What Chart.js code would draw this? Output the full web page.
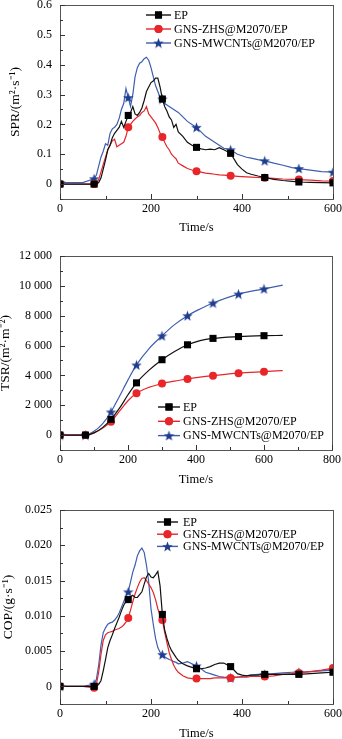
<!DOCTYPE html>
<html>
<head>
<meta charset="utf-8">
<script src="https://cdn.jsdelivr.net/npm/chart.js@4.4.0/dist/chart.umd.min.js"></script>
<style>
  html, body { margin: 0; padding: 0; background: #fff; }
  body { width: 342px; height: 739px; position: relative; overflow: hidden; }
  canvas { position: absolute; left: 0; }
</style>
</head>
<body>
<canvas id="spr" width="342" height="245" style="top:0"></canvas>
<canvas id="tsr" width="342" height="250" style="top:245px"></canvas>
<canvas id="cop" width="342" height="244" style="top:495px"></canvas>
<script>
const seriesNames = ['EP', 'GNS-ZHS@M2070/EP', 'GNS-MWCNTs@M2070/EP'];

// time grid (s) shared by the SPR and COP curves
const time = [0, 25, 50, 75, 80, 85, 90, 95, 100, 105, 110, 115, 120, 125, 130, 135, 140, 145, 150,
  155, 160, 165, 170, 175, 180, 185, 190, 195, 200, 205, 210, 215, 220, 225, 230, 235, 240, 245, 250,
  255, 260, 270, 280, 290, 300, 310, 320, 330, 340, 350, 360, 375, 390, 400, 410, 420, 435, 450, 470,
  490, 510, 525, 550, 575, 600];

// smoke production rate, m2/s
const sprEP = [0, 0, 0, 0, 0, 0.005, 0.02, 0.05, 0.08, 0.115, 0.13, 0.155, 0.17, 0.18, 0.19, 0.21, 0.19, 0.21, 0.23,
  0.24, 0.26, 0.235, 0.23, 0.24, 0.255, 0.28, 0.31, 0.325, 0.34, 0.345, 0.355, 0.355, 0.325, 0.285, 0.26, 0.245, 0.225, 0.215, 0.19,
  0.2, 0.175, 0.16, 0.14, 0.13, 0.123, 0.118, 0.115, 0.117, 0.115, 0.122, 0.115, 0.103, 0.065, 0.05, 0.038, 0.033, 0.027, 0.022, 0.016,
  0.012, 0.009, 0.007, 0.006, 0.005, 0.004];
const sprZHS = [0, 0, 0, 0, 0.003, 0.015, 0.04, 0.066, 0.09, 0.115, 0.13, 0.145, 0.15, 0.125, 0.13, 0.135, 0.14, 0.16, 0.19,
  0.2, 0.21, 0.218, 0.225, 0.23, 0.24, 0.245, 0.26, 0.235, 0.225, 0.215, 0.205, 0.19, 0.17, 0.158, 0.14, 0.125, 0.115, 0.1, 0.092,
  0.085, 0.07, 0.061, 0.052, 0.047, 0.043, 0.04, 0.037, 0.035, 0.033, 0.031, 0.03, 0.028, 0.026, 0.025, 0.024, 0.023, 0.022, 0.021, 0.019,
  0.017, 0.016, 0.015, 0.013, 0.011, 0.01];
const sprMWCNT = [0.005, 0.005, 0.005, 0.018, 0.03, 0.06, 0.09, 0.11, 0.135, 0.13, 0.17, 0.185, 0.19, 0.2, 0.22, 0.25, 0.27, 0.32, 0.29,
  0.26, 0.3, 0.36, 0.39, 0.405, 0.41, 0.42, 0.425, 0.415, 0.39, 0.36, 0.33, 0.31, 0.29, 0.285, 0.27, 0.265, 0.26, 0.255, 0.25,
  0.245, 0.24, 0.225, 0.21, 0.2, 0.19, 0.175, 0.16, 0.15, 0.14, 0.13, 0.12, 0.115, 0.1, 0.095, 0.09, 0.087, 0.082, 0.078, 0.07,
  0.063, 0.055, 0.052, 0.047, 0.042, 0.04];

// total smoke release, m2/m2
const tsrTime = [0, 75, 100, 125, 150, 175, 200, 225, 262, 300, 337, 375, 412, 450, 525, 600, 655];
const tsrEP = [0, 0, 150, 500, 1050, 1800, 2700, 3500, 4350, 5050, 5600, 6050, 6330, 6480, 6600, 6660, 6680];
const tsrZHS = [0, 0, 150, 450, 900, 1600, 2300, 2800, 3200, 3450, 3620, 3760, 3880, 3980, 4150, 4250, 4320];
const tsrMWCNT = [0, 0, 250, 750, 1550, 2600, 3700, 4700, 5800, 6650, 7400, 8000, 8450, 8850, 9450, 9800, 10050];

// CO production, g/s
const copEP = [0, 0, 0, 0, 0, 0.0003, 0.0008, 0.0022, 0.0038, 0.0055, 0.0065, 0.0073, 0.0082, 0.009, 0.0098, 0.0107, 0.0115, 0.012, 0.0123,
  0.0127, 0.0129, 0.0126, 0.0126, 0.013, 0.0134, 0.0145, 0.0155, 0.016, 0.0155, 0.0154, 0.0158, 0.0163, 0.0142, 0.0102, 0.008, 0.0068, 0.0058, 0.0051, 0.0046,
  0.0041, 0.0037, 0.0032, 0.0029, 0.0027, 0.0025, 0.0025, 0.0026, 0.0028, 0.0031, 0.0033, 0.0033, 0.0028, 0.0018, 0.0016, 0.0015, 0.0016, 0.0016, 0.0017, 0.0017,
  0.0017, 0.0017, 0.0017, 0.0018, 0.0019, 0.002];
const copZHS = [0, 0, 0, -0.0002, 0.0003, 0.002, 0.0045, 0.0065, 0.0073, 0.0076, 0.0077, 0.0078, 0.008, 0.0081, 0.0082, 0.0084, 0.0087, 0.0091, 0.0097,
  0.0108, 0.012, 0.0131, 0.014, 0.0148, 0.0153, 0.0154, 0.015, 0.0145, 0.014, 0.0133, 0.0123, 0.011, 0.01, 0.0094, 0.0077, 0.0062, 0.0048, 0.0038, 0.003,
  0.0024, 0.002, 0.0015, 0.0012, 0.0011, 0.0011, 0.0011, 0.0011, 0.0011, 0.0012, 0.0012, 0.0012, 0.0012, 0.0013, 0.0013, 0.0013, 0.0014, 0.0014, 0.0014, 0.0015,
  0.0017, 0.0018, 0.0019, 0.0021, 0.0023, 0.0026];
const copMWCNT = [0, 0, 0, 0.0003, 0.001, 0.003, 0.0058, 0.0076, 0.0083, 0.0088, 0.009, 0.0091, 0.0094, 0.0098, 0.0104, 0.0112, 0.012, 0.0128, 0.0134,
  0.0148, 0.0162, 0.0172, 0.0185, 0.0192, 0.0196, 0.019, 0.0172, 0.0148, 0.011, 0.0088, 0.0068, 0.0055, 0.0048, 0.0045, 0.0042, 0.004, 0.0038, 0.0037, 0.0035,
  0.0034, 0.0032, 0.0033, 0.0035, 0.0032, 0.0029, 0.0025, 0.002, 0.0018, 0.0016, 0.0014, 0.0013, 0.0012, 0.0013, 0.0014, 0.0015, 0.0016, 0.0017, 0.0017, 0.0018,
  0.0019, 0.002, 0.002, 0.0021, 0.0022, 0.0023];

// axis ticks
const sprTicks = [0, 0.1, 0.2, 0.3, 0.4, 0.5, 0.6];
const tsrTicks = [0, 2000, 4000, 6000, 8000, 10000, 12000];
const copTicks = [0, 0.005, 0.01, 0.015, 0.02, 0.025];
const timeTicks600 = [0, 200, 400, 600];
const timeTicks800 = [0, 200, 400, 600, 800];

const FONT = '"Liberation Serif", "Times New Roman", serif';
Chart.defaults.font.family = FONT;
Chart.defaults.font.size = 12;
Chart.defaults.color = '#000';

// filled five point star used as the marker of the MWCNTs series
function starImage(size, color) {
  const c = document.createElement('canvas');
  c.width = size; c.height = size;
  const g = c.getContext('2d');
  const cx = size / 2, cy = size / 2 + 0.5, ro = size / 2, ri = ro * 0.42;
  g.beginPath();
  for (let i = 0; i < 10; i++) {
    const r = i % 2 ? ri : ro;
    const a = -Math.PI / 2 + i * Math.PI / 5;
    g.lineTo(cx + r * Math.cos(a), cy + r * Math.sin(a));
  }
  g.closePath();
  g.fillStyle = color;
  g.fill();
  return c;
}

const styles = [
  { line: '#111111', fill: '#000000', pointStyle: 'rect', radius: 5 },
  { line: '#e3262b', fill: '#e8262a', pointStyle: 'circle', radius: 4 },
  { line: '#3d5fae', fill: '#1f3d8f', pointStyle: starImage(11, '#1f3d8f'), radius: 5 }
];

function zip(xs, ys) {
  return xs.map((x, i) => ({ x: x, y: ys[i] }));
}

function datasets(xs, series, smooth) {
  return series.map((ys, i) => ({
    label: seriesNames[i],
    data: zip(xs, ys),
    borderColor: styles[i].line,
    backgroundColor: styles[i].fill,
    borderWidth: 1.2,
    pointStyle: styles[i].pointStyle,
    pointBorderColor: styles[i].fill,
    pointBorderWidth: 0,
    pointRadius: (ctx) => (ctx.raw && ctx.raw.x % 75 === 0 ? styles[i].radius : 0),
    pointHoverRadius: 0,
    tension: 0,
    cubicInterpolationMode: smooth ? 'monotone' : 'default'
  }));
}

// frame, inward tick marks and the line+marker legend
const framePlugin = {
  id: 'frame',
  afterDraw(chart, args, o) {
    const { ctx, chartArea: a, scales } = chart;
    ctx.save();
    ctx.strokeStyle = '#555';
    ctx.lineWidth = 1;
    ctx.strokeRect(Math.round(a.left) + 0.5, Math.round(a.top) + 0.5,
      Math.round(a.right - a.left), Math.round(a.bottom - a.top));
    ctx.strokeStyle = '#333';
    ctx.beginPath();
    const x = scales.x, y = scales.y;
    for (let v = x.min; v <= x.max + 1e-9; v += o.xMinor) {
      const px = Math.round(x.getPixelForValue(v)) + 0.5;
      const major = Math.abs(v / o.xMajor - Math.round(v / o.xMajor)) < 1e-6;
      ctx.moveTo(px, a.bottom);
      ctx.lineTo(px, a.bottom - (major ? 5 : 3));
    }
    const start = Math.ceil(y.min / o.yMinor - 1e-6) * o.yMinor;
    for (let v = start; v <= y.max + 1e-9; v += o.yMinor) {
      const py = Math.round(y.getPixelForValue(v)) + 0.5;
      const major = Math.abs(v / o.yMajor - Math.round(v / o.yMajor)) < 1e-6;
      ctx.moveTo(a.left, py);
      ctx.lineTo(a.left + (major ? 5 : 3), py);
    }
    ctx.stroke();

    const L = o.legend;
    chart.data.datasets.forEach((ds, i) => {
      const ly = L.y + i * L.dy;
      ctx.strokeStyle = ds.borderColor;
      ctx.lineWidth = 1.4;
      ctx.beginPath();
      ctx.moveTo(L.x0, ly);
      ctx.lineTo(L.x1, ly);
      ctx.stroke();
      ctx.fillStyle = ds.backgroundColor;
      Chart.helpers.drawPoint(ctx, {
        pointStyle: styles[i].pointStyle, radius: styles[i].radius, rotation: 0, borderWidth: 0
      }, (L.x0 + L.x1) / 2, ly);
      ctx.fill();
      ctx.fillStyle = '#000';
      ctx.font = '12px ' + FONT;
      ctx.textBaseline = 'middle';
      ctx.textAlign = 'left';
      ctx.fillText(ds.label, L.tx, ly + 0.5);
    });
    ctx.restore();
  }
};

function makeChart(id, cfg) {
  return new Chart(document.getElementById(id), {
    type: 'line',
    data: { datasets: datasets(cfg.xs, cfg.series, cfg.smooth) },
    plugins: [framePlugin],
    options: {
      responsive: false,
      animation: false,
      devicePixelRatio: 1,
      layout: { padding: { top: cfg.top, right: cfg.right, left: 0, bottom: 0 } },
      plugins: {
        legend: { display: false },
        tooltip: { enabled: false },
        frame: cfg.frame
      },
      scales: {
        x: {
          type: 'linear',
          min: 0, max: cfg.xMax,
          grid: { display: false, drawTicks: false },
          border: { display: false },
          afterBuildTicks: (s) => { s.ticks = cfg.xTicks.map(v => ({ value: v })); },
          afterFit: (s) => { s.height = cfg.xHeight; s.paddingLeft = 0; s.paddingRight = 0; },
          ticks: { padding: 3, maxRotation: 0, autoSkip: false, font: { size: 12 } },
          title: { display: true, text: 'Time/s', font: { size: 12.5 }, padding: cfg.xTitlePad }
        },
        y: {
          min: cfg.yMin, max: cfg.yMax,
          grid: { display: false, drawTicks: false },
          border: { display: false },
          afterBuildTicks: (s) => { s.ticks = cfg.yTicks.map(v => ({ value: v })); },
          afterFit: (s) => { s.width = 60; s.paddingTop = 0; s.paddingBottom = 0; },
          ticks: { padding: 8, autoSkip: false, callback: cfg.yFormat, font: { size: 12 } },
          title: { display: true, text: cfg.yTitle, font: { size: 13.5 }, padding: cfg.yTitlePad }
        }
      }
    }
  });
}

makeChart('spr', {
  xs: time, series: [sprEP, sprZHS, sprMWCNT], smooth: false,
  top: 5, right: 9, xHeight: 46, xMax: 600, xTicks: timeTicks600,
  yMin: -0.05, yMax: 0.6, yTicks: sprTicks,
  yFormat: (v) => (v === 0 ? '0' : v.toFixed(1)),
  yTitle: 'SPR/(m\u00b2\u00b7s\u207b\u00b9)', yTitlePad: { top: 7, bottom: 0 },
  xTitlePad: { top: 0, bottom: 9.5 },
  frame: { xMajor: 200, xMinor: 100, yMajor: 0.1, yMinor: 0.05,
    legend: { x0: 146, x1: 171, tx: 174, y: 15, dy: 14 } }
});

makeChart('tsr', {
  xs: tsrTime, series: [tsrEP, tsrZHS, tsrMWCNT], smooth: true,
  top: 11, right: 10, xHeight: 45, xMax: 800, xTicks: timeTicks800,
  yMin: -1000, yMax: 12000, yTicks: tsrTicks,
  yFormat: (v) => String(v).replace(/\B(?=(\d{3})+(?!\d))/g, ' '),
  yTitle: 'TSR/(m\u00b2\u00b7m\u207b\u00b2)', yTitlePad: { top: -3, bottom: 0 },
  xTitlePad: { top: 0, bottom: 7.5 },
  frame: { xMajor: 200, xMinor: 100, yMajor: 2000, yMinor: 1000,
    legend: { x0: 158, x1: 180, tx: 183, y: 162, dy: 14.3 } }
});

makeChart('cop', {
  xs: time, series: [copEP, copZHS, copMWCNT], smooth: false,
  top: 15, right: 9, xHeight: 35, xMax: 600, xTicks: timeTicks600,
  yMin: -0.0025, yMax: 0.025, yTicks: copTicks,
  yFormat: (v) => (v === 0 ? '0' : v.toFixed(3)),
  yTitle: 'COP/(g\u00b7s\u207b\u00b9)', yTitlePad: { top: 0, bottom: 0 },
  xTitlePad: { top: 0, bottom: -2.5 },
  frame: { xMajor: 200, xMinor: 100, yMajor: 0.005, yMinor: 0.0025,
    legend: { x0: 157, x1: 178, tx: 183, y: 27, dy: 12.2 } }
});
</script>
</body>
</html>
